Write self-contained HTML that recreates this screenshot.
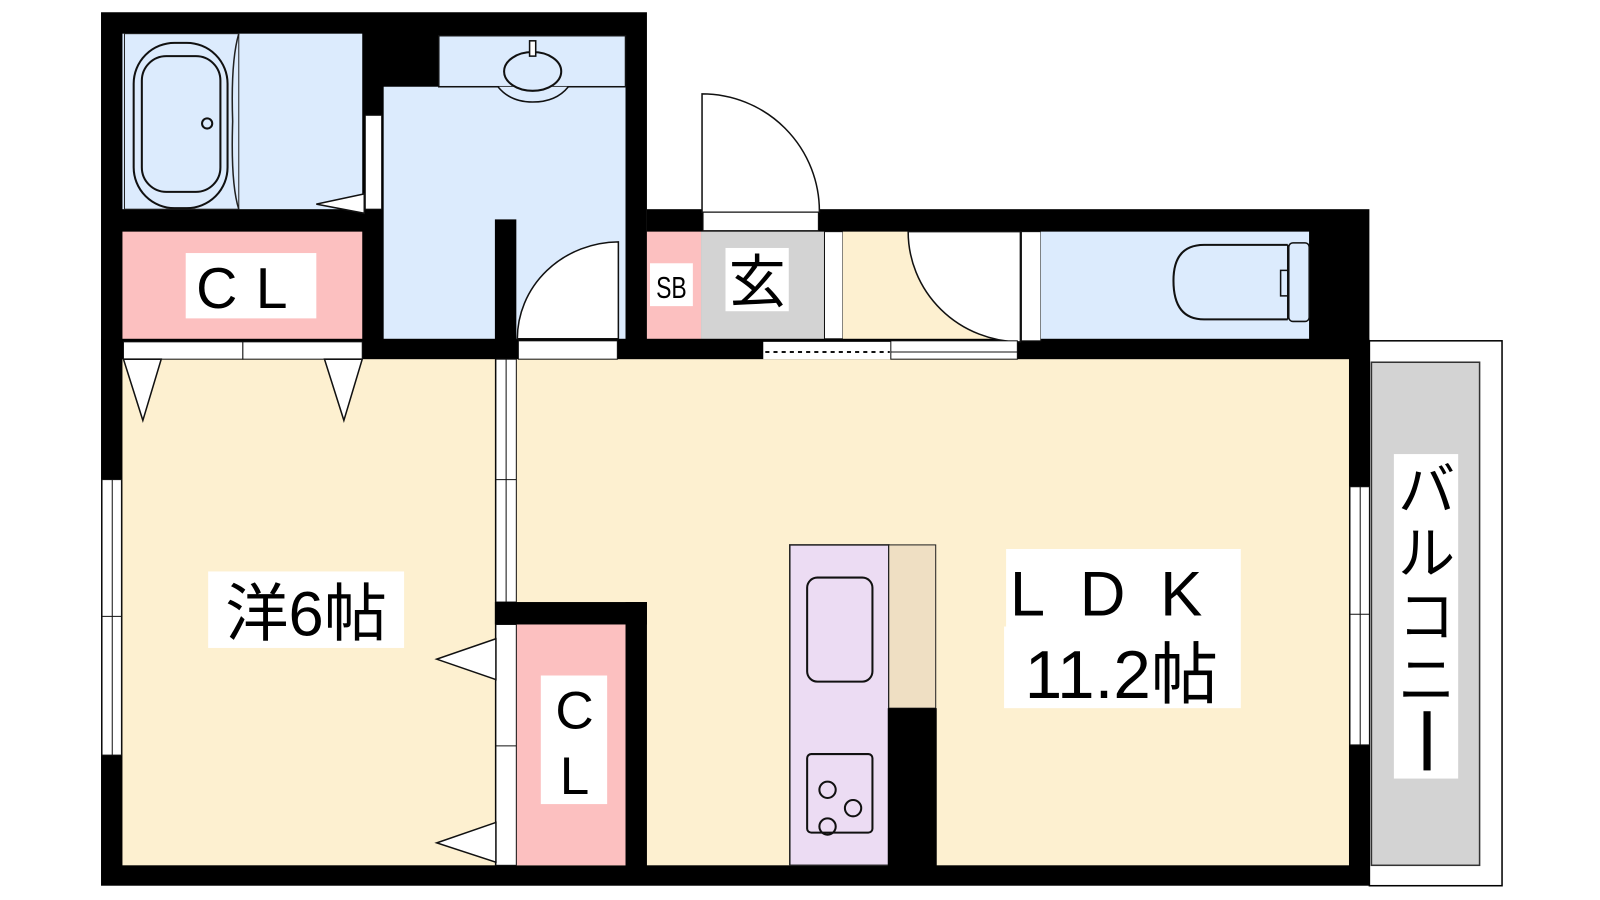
<!DOCTYPE html>
<html><head><meta charset="utf-8"><style>
html,body{margin:0;padding:0;background:#fff;}
svg{display:block;}
text{font-family:"Liberation Sans","Noto Sans CJK JP",sans-serif;fill:#000;}
</style></head><body>
<svg width="1600" height="900" viewBox="0 0 1568 882" preserveAspectRatio="none" xmlns="http://www.w3.org/2000/svg">
<!-- balcony -->
<rect x="1342" y="334" width="130" height="534" fill="#fff" stroke="#000" stroke-width="1.5"/>
<rect x="1344" y="355" width="106" height="493" fill="#d3d3d3" stroke="#333" stroke-width="1.5"/>
<!-- floors -->
<rect x="99" y="12" width="535" height="340" fill="#000"/>
<rect x="634" y="205" width="708" height="147" fill="#000"/>
<rect x="99" y="332" width="1243" height="536" fill="#000"/>
<rect x="120" y="352" width="365" height="496" fill="#fdf0d0"/>
<rect x="506" y="352" width="816" height="496" fill="#fdf0d0"/>
<!-- bath -->
<rect x="120" y="33" width="235" height="172" fill="#dcebfd"/>
<rect x="122" y="33" width="112" height="172" fill="#dcebfd" stroke="#222" stroke-width="1"/>
<path d="M234 33 Q226 60 228 119 Q226 180 234 205" fill="none" stroke="#222" stroke-width="1.5"/>
<rect x="131" y="42" width="92" height="162" rx="40" fill="none" stroke="#111" stroke-width="2"/>
<rect x="139" y="55" width="77" height="133" rx="24" fill="none" stroke="#111" stroke-width="2"/>
<circle cx="203" cy="121" r="5" fill="none" stroke="#111" stroke-width="2"/>
<rect x="358" y="113" width="16" height="92" fill="#fff" stroke="#111" stroke-width="1"/>
<path d="M357 190 L310 200 L357 209 Z" fill="#fff" stroke="#111" stroke-width="1.5"/>
<!-- CL top -->
<rect x="120" y="227" width="235" height="105" fill="#fcc0c0"/>
<rect x="182" y="248" width="128" height="64" fill="#fff"/>
<text x="246" y="302" font-size="56" text-anchor="middle" letter-spacing="18">CL</text>
<rect x="121" y="335" width="117" height="17" fill="#fff" stroke="#111" stroke-width="1"/>
<rect x="238" y="335" width="117" height="17" fill="#fff" stroke="#111" stroke-width="1"/>
<path d="M121 352 L140 412 L158 352 Z" fill="#fff" stroke="#111" stroke-width="1.5"/>
<path d="M318 352 L337 412 L355 352 Z" fill="#fff" stroke="#111" stroke-width="1.5"/>
<!-- wash -->
<rect x="376" y="85" width="237" height="247" fill="#dcebfd"/>
<rect x="430" y="35" width="183" height="50" fill="#dcebfd" stroke="#111" stroke-width="1.5"/>
<path d="M488 85 Q500 100 522 100 Q545 100 557 85" fill="#dcebfd" stroke="#111" stroke-width="1.5"/>
<ellipse cx="522" cy="70" rx="28" ry="19" fill="#dcebfd" stroke="#111" stroke-width="2"/>
<rect x="519" y="40" width="6" height="15" fill="#fff" stroke="#111" stroke-width="1.5"/>
<rect x="485" y="215" width="21" height="137" fill="#000"/>
<path d="M606 237 L606 332 L507 332 A100 95 0 0 1 606 237 Z" fill="#fff" stroke="#111" stroke-width="1.5"/>
<rect x="508" y="334" width="97" height="18" fill="#fff" stroke="#111" stroke-width="1"/>
<!-- sliding door between rooms -->
<rect x="486" y="352" width="20" height="238" fill="#fff" stroke="#111" stroke-width="1"/>
<line x1="496" y1="352" x2="496" y2="590" stroke="#111" stroke-width="1"/>
<line x1="486" y1="470" x2="506" y2="470" stroke="#111" stroke-width="1"/>
<!-- entrance -->
<path d="M688 92 L688 208 L803 208 A115 115 0 0 0 688 92 Z" fill="#fff" stroke="#111" stroke-width="1.5"/>
<rect x="689" y="208" width="113" height="18" fill="#fff" stroke="#111" stroke-width="1"/>
<rect x="634" y="227" width="53" height="105" fill="#fcc0c0"/>
<rect x="687" y="227" width="121" height="105" fill="#d3d3d3"/>
<rect x="808" y="227" width="18" height="105" fill="#fff" stroke="#111" stroke-width="1"/>
<rect x="637" y="258" width="42" height="42" fill="#fff"/>
<text x="658" y="292" font-size="30" text-anchor="middle" transform="translate(658 0) scale(0.75 1) translate(-658 0)">SB</text>
<rect x="711" y="243" width="62" height="62" fill="#fff"/>
<text x="742" y="296" font-size="56" text-anchor="middle">玄</text>
<rect x="826" y="227" width="174" height="105" fill="#fdf0d0"/>
<path d="M890 227 L1000 227 L1000 335 A110 108 0 0 1 890 227 Z" fill="#fff" stroke="#111" stroke-width="1.5"/>
<rect x="1001" y="227" width="19" height="107" fill="#fff" stroke="#111" stroke-width="1"/>
<rect x="748" y="335" width="125" height="17" fill="#fff"/>
<line x1="750" y1="345" x2="872" y2="345" stroke="#111" stroke-width="2" stroke-dasharray="4 4"/>
<rect x="873" y="334" width="124" height="18" fill="#fff" stroke="#111" stroke-width="1"/>
<line x1="873" y1="345" x2="997" y2="345" stroke="#111" stroke-width="1"/>
<!-- toilet -->
<rect x="1020" y="227" width="263" height="105" fill="#dcebfd"/>
<path d="M1262 240 L1180 240 Q1150 240 1150 275 Q1150 313 1180 313 L1262 313" fill="none" stroke="#111" stroke-width="2"/>
<line x1="1262" y1="240" x2="1262" y2="313" stroke="#111" stroke-width="1.5"/>
<rect x="1283" y="227" width="2" height="105" fill="#000"/>
<rect x="1263" y="238" width="20" height="77" rx="4" fill="#dcebfd" stroke="#111" stroke-width="1.5"/>
<path d="M1262 265 L1255 265 L1255 290 L1262 290" fill="none" stroke="#111" stroke-width="1.5"/>
<!-- windows -->
<rect x="100" y="470" width="19" height="270" fill="#fff" stroke="#111" stroke-width="1"/>
<line x1="110" y1="470" x2="110" y2="740" stroke="#111" stroke-width="1"/>
<line x1="100" y1="604" x2="119" y2="604" stroke="#111" stroke-width="1"/>
<rect x="1323" y="477" width="19" height="253" fill="#fff" stroke="#111" stroke-width="1"/>
<line x1="1333" y1="477" x2="1333" y2="730" stroke="#111" stroke-width="1"/>
<line x1="1323" y1="602" x2="1342" y2="602" stroke="#111" stroke-width="1"/>
<!-- CL 2 -->
<rect x="485" y="590" width="149" height="22" fill="#000"/>
<rect x="613" y="590" width="21" height="260" fill="#000"/>
<rect x="506" y="612" width="107" height="236" fill="#fcc0c0"/>
<rect x="486" y="612" width="20" height="236" fill="#fff" stroke="#111" stroke-width="1"/>
<line x1="486" y1="731" x2="506" y2="731" stroke="#111" stroke-width="1"/>
<path d="M486 626 L428 646 L486 666 Z" fill="#fff" stroke="#111" stroke-width="1.5"/>
<path d="M486 806 L428 826 L486 845 Z" fill="#fff" stroke="#111" stroke-width="1.5"/>
<rect x="530" y="662" width="65" height="126" fill="#fff"/>
<text x="563" y="714" font-size="52" text-anchor="middle">C</text>
<text x="563" y="778" font-size="52" text-anchor="middle">L</text>
<!-- kitchen -->
<rect x="774" y="534" width="97" height="314" fill="#ecdcf3" stroke="#222" stroke-width="1.5"/>
<rect x="871" y="534" width="46" height="160" fill="#efdfc3" stroke="#222" stroke-width="1"/>
<rect x="870" y="694" width="48" height="156" fill="#000"/>
<rect x="791" y="566" width="64" height="102" rx="10" fill="none" stroke="#111" stroke-width="2"/>
<rect x="791" y="739" width="64" height="77" rx="4" fill="none" stroke="#111" stroke-width="2"/>
<circle cx="811" cy="774" r="8" fill="none" stroke="#111" stroke-width="2"/>
<circle cx="836" cy="792" r="8" fill="none" stroke="#111" stroke-width="2"/>
<circle cx="811" cy="810" r="8" fill="none" stroke="#111" stroke-width="2"/>
<!-- room labels -->
<rect x="204" y="560" width="192" height="75" fill="#fff"/>
<text x="300" y="623" font-size="62" text-anchor="middle">洋6帖</text>
<rect x="986" y="538" width="230" height="76" fill="#fff"/>
<text x="1101" y="603" font-size="62" text-anchor="middle" letter-spacing="34">LDK</text>
<rect x="984" y="614" width="232" height="80" fill="#fff"/>
<text x="1099" y="684" font-size="66" text-anchor="middle">11.2帖</text>
<rect x="1366" y="445" width="63" height="318" fill="#fff"/>
<text x="1398" y="500" font-size="56" text-anchor="middle">バ</text>
<text x="1398" y="562" font-size="56" text-anchor="middle">ル</text>
<text x="1398" y="624" font-size="56" text-anchor="middle">コ</text>
<text x="1398" y="686" font-size="56" text-anchor="middle">ニ</text>
<rect x="1395" y="697" width="7" height="58" fill="#000"/>
</svg>
</body></html>
